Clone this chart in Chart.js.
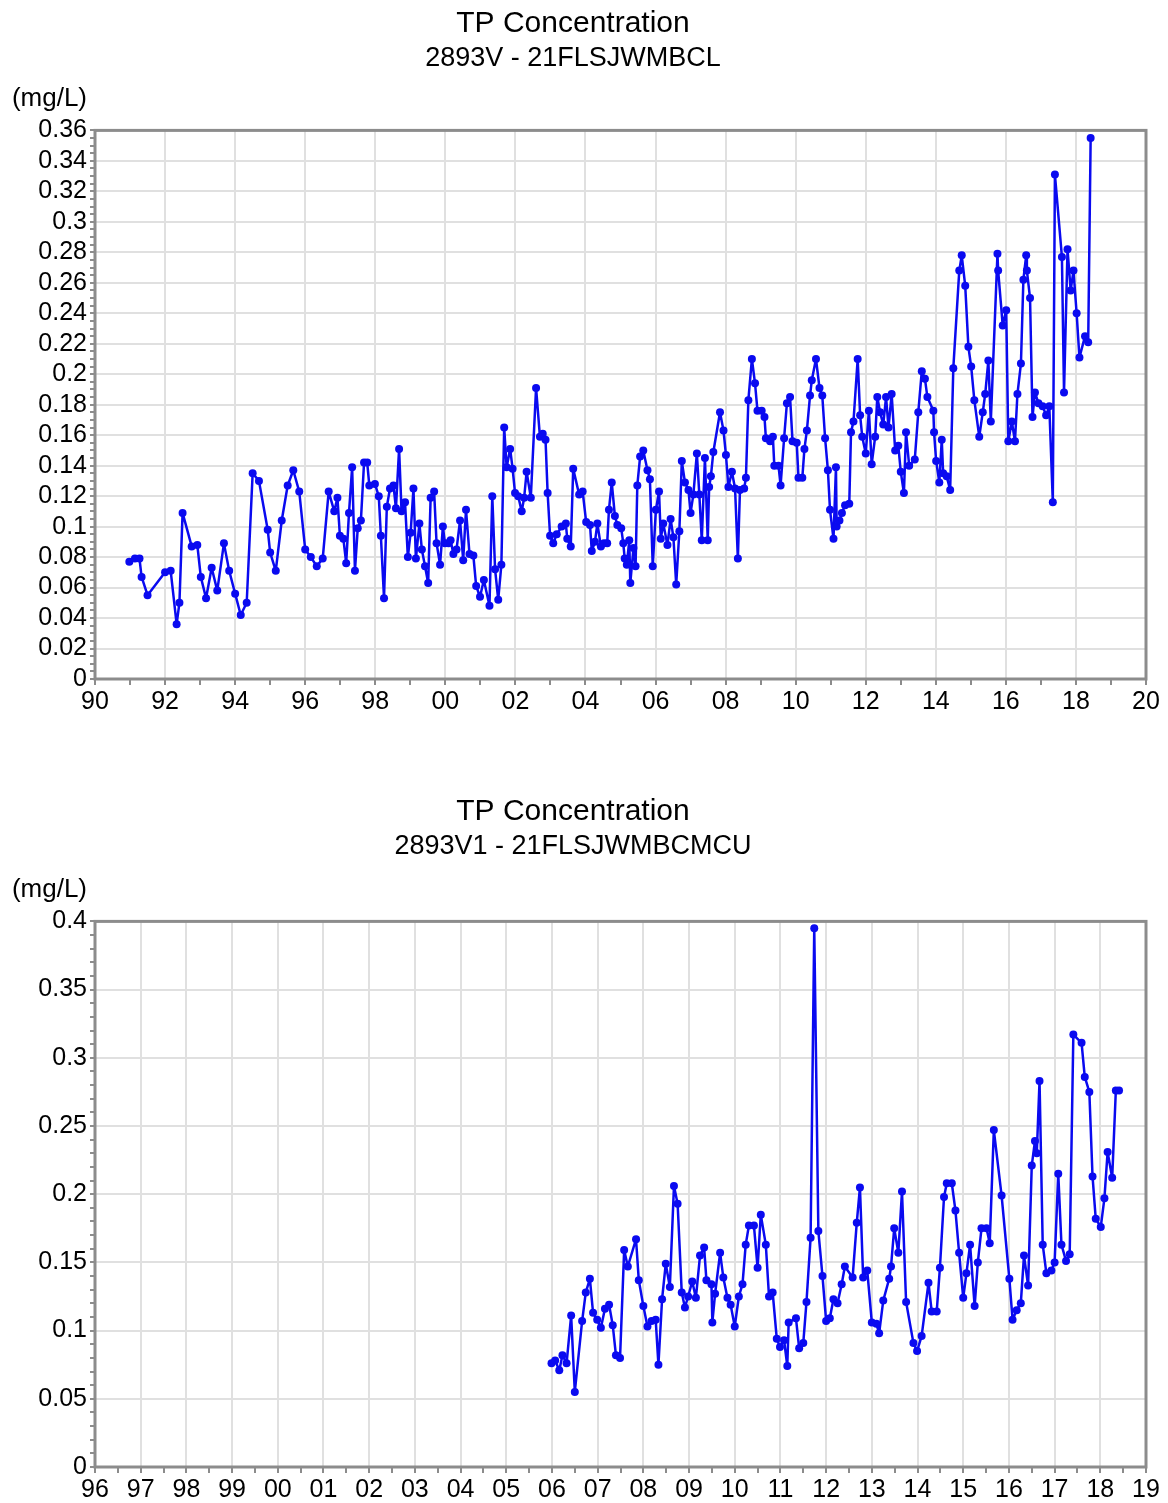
<!DOCTYPE html>
<html>
<head>
<meta charset="utf-8">
<title>TP Concentration</title>
<script src="https://cdn.jsdelivr.net/npm/chart.js@4.4.1/dist/chart.umd.min.js"></script>
<style>
  body { margin: 0; background: #fff; }
  #page { position: relative; width: 1168px; height: 1503px; }
  .box { position: absolute; left: 0; width: 1168px; }
  #box-top { top: 0; height: 790px; }
  #box-bottom { top: 790px; height: 713px; }
</style>
</head>
<body>
<div id="page">
  <div class="box" id="box-top"><canvas id="chartTop"></canvas></div>
  <div class="box" id="box-bottom"><canvas id="chartBottom"></canvas></div>
</div>
<script>
// Station 2893V - 21FLSJWMBCL (x = years since 1900)
const topYears = [
  90.98, 91.14, 91.27, 91.33, 91.50, 92.00, 92.16, 92.33, 92.41, 92.50,
  92.76, 92.92, 93.02, 93.17, 93.33, 93.49, 93.68, 93.83, 94.00, 94.16,
  94.33, 94.50, 94.68, 94.93, 95.00, 95.16, 95.33, 95.50, 95.66, 95.83,
  96.00, 96.16, 96.33, 96.50, 96.67, 96.83, 96.92, 96.99, 97.09, 97.17,
  97.25, 97.34, 97.42, 97.50, 97.59, 97.68, 97.77, 97.83, 97.99, 98.10,
  98.16, 98.25, 98.33, 98.42, 98.52, 98.59, 98.68, 98.75, 98.85, 98.93,
  99.01, 99.09, 99.16, 99.26, 99.33, 99.42, 99.51, 99.58, 99.68, 99.75,
  99.85, 99.93, 99.99, 100.09, 100.15, 100.23, 100.32, 100.42, 100.51, 100.59,
  100.69, 100.80, 100.88, 100.99, 101.10, 101.26, 101.34, 101.42, 101.51, 101.60,
  101.68, 101.75, 101.85, 101.92, 101.99, 102.08, 102.18, 102.25, 102.32, 102.44,
  102.59, 102.70, 102.78, 102.86, 102.92, 102.99, 103.08, 103.18, 103.32, 103.44,
  103.48, 103.58, 103.65, 103.82, 103.92, 104.02, 104.13, 104.18, 104.27, 104.34,
  104.44, 104.53, 104.62, 104.67, 104.75, 104.84, 104.91, 105.02, 105.08, 105.12,
  105.18, 105.25, 105.28, 105.37, 105.43, 105.48, 105.56, 105.65, 105.77, 105.84,
  105.92, 106.01, 106.10, 106.15, 106.22, 106.34, 106.43, 106.51, 106.59, 106.68,
  106.75, 106.84, 106.94, 107.00, 107.08, 107.18, 107.25, 107.32, 107.41, 107.49,
  107.53, 107.58, 107.65, 107.84, 107.94, 108.01, 108.08, 108.18, 108.27, 108.35,
  108.41, 108.53, 108.58, 108.65, 108.75, 108.84, 108.91, 109.03, 109.11, 109.15,
  109.27, 109.35, 109.39, 109.51, 109.57, 109.67, 109.75, 109.84, 109.91, 110.03,
  110.08, 110.19, 110.25, 110.32, 110.41, 110.46, 110.58, 110.68, 110.76, 110.84,
  110.92, 110.98, 111.08, 111.15, 111.17, 111.25, 111.32, 111.41, 111.53, 111.58,
  111.65, 111.77, 111.84, 111.90, 112.00, 112.09, 112.17, 112.27, 112.33, 112.41,
  112.50, 112.58, 112.65, 112.74, 112.84, 112.93, 113.00, 113.09, 113.15, 113.24,
  113.40, 113.50, 113.60, 113.69, 113.76, 113.93, 113.95, 114.01, 114.10, 114.17,
  114.21, 114.31, 114.41, 114.50, 114.67, 114.74, 114.84, 114.93, 115.01, 115.10,
  115.24, 115.34, 115.41, 115.50, 115.57, 115.76, 115.78, 115.91, 116.01, 116.07,
  116.17, 116.26, 116.33, 116.43, 116.50, 116.58, 116.60, 116.69, 116.76, 116.83,
  116.93, 117.05, 117.15, 117.24, 117.34, 117.40, 117.60, 117.66, 117.76, 117.85,
  117.93, 118.02, 118.10, 118.26, 118.35, 118.42
];
const topValues = [
  0.077, 0.079, 0.079, 0.067, 0.055, 0.070, 0.071, 0.036, 0.050, 0.109,
  0.087, 0.088, 0.067, 0.053, 0.073, 0.058, 0.089, 0.071, 0.056, 0.042,
  0.050, 0.135, 0.130, 0.098, 0.083, 0.071, 0.104, 0.127, 0.137, 0.123,
  0.085, 0.080, 0.074, 0.079, 0.123, 0.110, 0.119, 0.094, 0.092, 0.076,
  0.109, 0.139, 0.071, 0.099, 0.104, 0.142, 0.142, 0.127, 0.128, 0.120,
  0.094, 0.053, 0.113, 0.125, 0.127, 0.112, 0.151, 0.110, 0.116, 0.080,
  0.096, 0.125, 0.079, 0.102, 0.085, 0.074, 0.063, 0.119, 0.123, 0.089,
  0.075, 0.100, 0.089, 0.089, 0.091, 0.082, 0.085, 0.104, 0.078, 0.111,
  0.082, 0.081, 0.061, 0.054, 0.065, 0.048, 0.120, 0.072, 0.052, 0.075,
  0.165, 0.139, 0.151, 0.138, 0.122, 0.120, 0.110, 0.119, 0.136, 0.119,
  0.191, 0.159, 0.161, 0.157, 0.122, 0.094, 0.089, 0.095, 0.100, 0.102,
  0.092, 0.087, 0.138, 0.121, 0.123, 0.103, 0.101, 0.084, 0.090, 0.102,
  0.087, 0.089, 0.089, 0.111, 0.129, 0.107, 0.101, 0.099, 0.089, 0.079,
  0.075, 0.091, 0.063, 0.086, 0.074, 0.127, 0.146, 0.150, 0.137, 0.131,
  0.074, 0.111, 0.123, 0.092, 0.102, 0.088, 0.105, 0.093, 0.062, 0.097,
  0.143, 0.129, 0.124, 0.109, 0.121, 0.148, 0.121, 0.091, 0.145, 0.091,
  0.126, 0.133, 0.149, 0.175, 0.163, 0.147, 0.126, 0.136, 0.125, 0.079,
  0.124, 0.125, 0.132, 0.183, 0.210, 0.194, 0.176, 0.176, 0.172, 0.158,
  0.156, 0.159, 0.140, 0.140, 0.127, 0.158, 0.181, 0.185, 0.156, 0.155,
  0.132, 0.132, 0.151, 0.163, 0.186, 0.196, 0.210, 0.191, 0.186, 0.158,
  0.137, 0.111, 0.092, 0.139, 0.100, 0.104, 0.109, 0.114, 0.115, 0.162,
  0.169, 0.210, 0.173, 0.159, 0.148, 0.176, 0.141, 0.159, 0.185, 0.175,
  0.167, 0.185, 0.165, 0.187, 0.150, 0.153, 0.136, 0.122, 0.162, 0.140,
  0.144, 0.175, 0.202, 0.197, 0.185, 0.176, 0.162, 0.143, 0.129, 0.157,
  0.135, 0.133, 0.124, 0.204, 0.268, 0.278, 0.258, 0.218, 0.205, 0.183,
  0.159, 0.175, 0.187, 0.209, 0.169, 0.279, 0.268, 0.232, 0.242, 0.156,
  0.169, 0.156, 0.187, 0.207, 0.262, 0.278, 0.268, 0.250, 0.172, 0.188,
  0.181, 0.179, 0.173, 0.179, 0.116, 0.331, 0.277, 0.188, 0.282, 0.255,
  0.268, 0.240, 0.211, 0.225, 0.221, 0.355
];

// Station 2893V1 - 21FLSJWMBCMCU
const bottomYears = [
  105.99, 106.07, 106.16, 106.23, 106.32, 106.42, 106.50, 106.66, 106.74, 106.83,
  106.90, 106.99, 107.07, 107.16, 107.25, 107.33, 107.40, 107.49, 107.58, 107.66,
  107.84, 107.90, 108.00, 108.09, 108.18, 108.27, 108.33, 108.41, 108.49, 108.58,
  108.67, 108.75, 108.84, 108.91, 108.98, 109.07, 109.15, 109.24, 109.33, 109.38,
  109.49, 109.51, 109.57, 109.68, 109.75, 109.84, 109.91, 110.00, 110.09, 110.17,
  110.24, 110.31, 110.42, 110.50, 110.57, 110.68, 110.75, 110.83, 110.92, 110.99,
  111.08, 111.15, 111.18, 111.34, 111.41, 111.50, 111.57, 111.66, 111.74, 111.83,
  111.92, 112.00, 112.08, 112.16, 112.25, 112.34, 112.41, 112.58, 112.67, 112.74,
  112.81, 112.90, 113.00, 113.10, 113.16, 113.25, 113.38, 113.42, 113.49, 113.58,
  113.66, 113.75, 113.91, 113.99, 114.09, 114.24, 114.31, 114.42, 114.49, 114.58,
  114.64, 114.75, 114.83, 114.91, 115.00, 115.07, 115.15, 115.25, 115.32, 115.40,
  115.51, 115.58, 115.67, 115.84, 116.01, 116.08, 116.17, 116.26, 116.33, 116.42,
  116.50, 116.57, 116.61, 116.67, 116.74, 116.82, 116.93, 117.00, 117.08, 117.15,
  117.25, 117.33, 117.41, 117.59, 117.66, 117.76, 117.83, 117.90, 118.01, 118.09,
  118.16, 118.26, 118.34, 118.41
];
const bottomValues = [
  0.076, 0.078, 0.071, 0.082, 0.076, 0.111, 0.055, 0.107, 0.128, 0.138,
  0.113, 0.108, 0.102, 0.116, 0.119, 0.104, 0.082, 0.080, 0.159, 0.147,
  0.167, 0.137, 0.118, 0.103, 0.107, 0.108, 0.075, 0.123, 0.149, 0.132,
  0.206, 0.193, 0.128, 0.117, 0.125, 0.136, 0.124, 0.155, 0.161, 0.137,
  0.134, 0.106, 0.127, 0.157, 0.139, 0.124, 0.119, 0.103, 0.125, 0.134,
  0.163, 0.177, 0.177, 0.146, 0.185, 0.163, 0.125, 0.128, 0.094, 0.088,
  0.093, 0.074, 0.106, 0.109, 0.087, 0.091, 0.121, 0.168, 0.395, 0.173,
  0.140, 0.107, 0.109, 0.123, 0.120, 0.134, 0.147, 0.139, 0.179, 0.205,
  0.139, 0.144, 0.106, 0.105, 0.098, 0.122, 0.138, 0.147, 0.175, 0.157,
  0.202, 0.121, 0.091, 0.085, 0.096, 0.135, 0.114, 0.114, 0.146, 0.198,
  0.208, 0.208, 0.188, 0.157, 0.124, 0.142, 0.163, 0.118, 0.150, 0.175,
  0.175, 0.164, 0.247, 0.199, 0.138, 0.108, 0.115, 0.120, 0.155, 0.133,
  0.221, 0.239, 0.230, 0.283, 0.163, 0.142, 0.144, 0.150, 0.215, 0.163,
  0.151, 0.156, 0.317, 0.311, 0.286, 0.275, 0.213, 0.182, 0.176, 0.197,
  0.231, 0.212, 0.276, 0.276
];

const FONT = "'Liberation Sans', Arial, sans-serif";
const LINE_BLUE = "#0a0af0";
const AXIS_GRAY = "#8c8c8c";
const GRID_GRAY = "#e0e0e0";

// frame around the plot + "(mg/L)" unit above the y axis
const framePlugin = {
  id: "frame",
  beforeDatasetsDraw(chart) {
    const a = chart.chartArea;
    const ctx = chart.ctx;
    ctx.save();
    ctx.strokeStyle = AXIS_GRAY;
    ctx.lineWidth = 3;
    ctx.strokeRect(a.left, a.top, a.right - a.left, a.bottom - a.top);
    ctx.restore();
  },
  afterDraw(chart) {
    const a = chart.chartArea;
    const ctx = chart.ctx;
    ctx.save();
    ctx.fillStyle = "#000";
    ctx.font = "26px " + FONT;
    ctx.textAlign = "right";
    ctx.textBaseline = "middle";
    ctx.fillText("(mg/L)", a.left - 8, a.top - 32);
    ctx.restore();
  }
};

const yearLabel = v => String(Math.round(v) % 100).padStart(2, "0");
const numLabel = v => String(Number(v.toFixed(3)));

function makeChart(id, cfg) {
  const points = cfg.years.map((x, i) => ({ x: x, y: cfg.values[i] }));
  const isXMajor = v => Math.abs(v / cfg.xLabelStep - Math.round(v / cfg.xLabelStep)) < 1e-6;
  const isYMajor = v => Math.round(v * 1000) % Math.round(cfg.yLabelStep * 1000) === 0;

  return new Chart(document.getElementById(id), {
    type: "line",
    data: {
      datasets: [{
        data: points,
        borderColor: LINE_BLUE,
        backgroundColor: LINE_BLUE,
        borderWidth: 2.5,
        borderJoinStyle: "round",
        pointRadius: 4,
        pointBorderWidth: 0,
        tension: 0,
        fill: false,
      }],
    },
    plugins: [framePlugin],
    options: {
      responsive: true,
      maintainAspectRatio: false,
      animation: false,
      layout: { padding: { left: 0, right: 22, top: 0, bottom: cfg.padBottom } },
      plugins: {
        legend: { display: false },
        tooltip: { enabled: false },
        title: {
          display: true,
          text: "TP Concentration",
          color: "#000",
          font: { family: FONT, size: 30, weight: "normal" },
          padding: { top: cfg.titleTop, bottom: 0 },
        },
        subtitle: {
          display: true,
          text: cfg.subtitle,
          color: "#000",
          font: { family: FONT, size: 27, weight: "normal" },
          padding: { top: 0, bottom: cfg.subBottom },
        },
      },
      scales: {
        x: {
          type: "linear",
          min: cfg.xMin,
          max: cfg.xMax,
          afterFit: s => { s.height = cfg.xHeight; },
          border: { display: false },
          grid: {
            lineWidth: 2,
            color: c => isXMajor(c.tick.value) ? GRID_GRAY : "rgba(0,0,0,0)",
            tickColor: AXIS_GRAY,
            tickLength: 6,
            tickWidth: 2,
          },
          ticks: {
            stepSize: cfg.xStep,
            autoSkip: false,
            maxRotation: 0,
            padding: 2,
            color: "#000",
            font: { family: FONT, size: 25 },
            callback: v => isXMajor(v) ? yearLabel(v) : "",
          },
        },
        y: {
          min: 0,
          max: cfg.yMax,
          afterFit: s => { s.width = 95; },
          border: { display: false },
          grid: {
            lineWidth: 2,
            color: c => isYMajor(c.tick.value) ? GRID_GRAY : "rgba(0,0,0,0)",
            tickColor: AXIS_GRAY,
            tickLength: 5,
            tickWidth: 2,
          },
          ticks: {
            stepSize: cfg.yStep,
            autoSkip: false,
            padding: 3,
            color: "#000",
            font: { family: FONT, size: 25 },
            callback: v => isYMajor(v) ? numLabel(v) : "",
          },
        },
      },
    },
  });
}

makeChart("chartTop", {
  subtitle: "2893V - 21FLSJWMBCL",
  years: topYears, values: topValues,
  xMin: 90, xMax: 120, xStep: 1, xLabelStep: 2,
  yMax: 0.36, yStep: 0.005, yLabelStep: 0.02,
  titleTop: 6, subBottom: 56, xHeight: 40, padBottom: 71,
});

makeChart("chartBottom", {
  subtitle: "2893V1 - 21FLSJWMBCMCU",
  years: bottomYears, values: bottomValues,
  xMin: 96, xMax: 119, xStep: 0.5, xLabelStep: 1,
  yMax: 0.4, yStep: 0.01, yLabelStep: 0.05,
  titleTop: 4, subBottom: 59, xHeight: 36, padBottom: 0,
});
</script>
</body>
</html>
